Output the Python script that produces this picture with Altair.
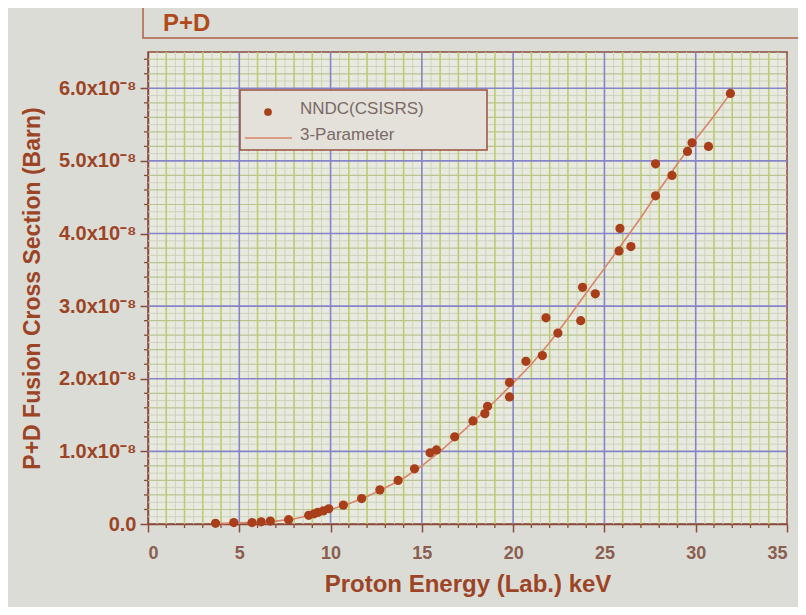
import altair as alt
import pandas as pd
import numpy as np

# ---- data (cross section in units of 1e-8 barn) ----
energy = [3.7, 4.7, 5.7, 6.2, 6.7, 7.7, 8.8, 9.1, 9.3, 9.6, 9.9, 10.7, 11.7, 12.7,
          13.7, 14.6, 15.45, 15.8, 16.8, 17.8, 18.45, 18.6, 19.8, 19.8, 20.7, 21.6,
          21.8, 22.45, 23.7, 23.8, 24.5, 25.8, 25.85, 26.45, 27.8, 27.8, 28.7, 29.55,
          29.8, 30.7, 31.9]
sigma = [0.01, 0.02, 0.02, 0.03, 0.04, 0.06, 0.12, 0.14, 0.16, 0.18, 0.21, 0.26, 0.35, 0.47,
         0.60, 0.76, 0.98, 1.02, 1.20, 1.42, 1.52, 1.62, 1.75, 1.95, 2.24, 2.32,
         2.84, 2.63, 2.80, 3.26, 3.17, 3.76, 4.07, 3.82, 4.52, 4.96, 4.80, 5.13,
         5.25, 5.20, 5.93]

fit_energy = [3.7, 5, 6, 7, 8, 9, 10, 11, 12, 13, 14, 15, 16, 17, 18, 19, 20, 21, 22,
              23, 24, 25, 26, 27, 28, 29, 30, 31, 31.9]
fit_sigma = [0.005, 0.015, 0.025, 0.04, 0.07, 0.13, 0.2, 0.28, 0.38, 0.5, 0.63, 0.8, 1.0,
             1.22, 1.45, 1.69, 1.94, 2.2, 2.5, 2.83, 3.18, 3.52, 3.87, 4.22, 4.6, 4.96,
             5.3, 5.62, 5.93]

x_ticks = [0, 5, 10, 15, 20, 25, 30, 35]
y_ticks = [0, 1, 2, 3, 4, 5, 6]
x_domain = [0, 35]
y_domain = [0, 6.5]

# grid positions
x_half = [v for v in np.arange(0.5, 35, 1.0)]
x_one = [v for v in np.arange(1, 35, 1.0) if v % 5 != 0]
x_major = [5, 10, 15, 20, 25, 30]
y_tenth = [round(v, 2) for v in np.arange(0.1, 6.5, 0.2)]
y_fifth = [round(v, 2) for v in np.arange(0.2, 6.5, 0.2) if abs(v - round(v)) > 1e-6]
y_major = [1, 2, 3, 4, 5, 6]
x_minor_ticks = [v for v in range(1, 35) if v % 5 != 0]
y_minor_ticks = [round(v, 2) for v in np.arange(0.2, 6.5, 0.2) if abs(v - round(v)) > 1e-6]

W, H = 639, 472
FONT = "Liberation Sans"
BROWN = "#9c4526"
BG = "#dcdcd6"

xscale = alt.Scale(domain=x_domain, nice=False, zero=False)
yscale = alt.Scale(domain=y_domain, nice=False, zero=False)

xaxis = alt.Axis(values=x_ticks, title="Proton Energy (Lab.) keV", grid=False,
                 labelFont=FONT, labelFontSize=18, labelFontWeight="bold", labelColor="#8a5e50",
                 labelPadding=12, tickSize=8, tickColor="#8b4a3a", tickWidth=1.5,
                 domainColor="#8b4a3a", domainWidth=1.5,
                 titleFont=FONT, titleFontSize=24, titleFontWeight="bold", titleColor=BROWN,
                 titlePadding=10, format="d")
yaxis = alt.Axis(values=y_ticks, title="P+D Fusion Cross Section (Barn)", grid=False,
                 labelExpr="datum.value == 0 ? '0.0' : format(datum.value, '.1f') + 'x10⁻⁸'",
                 labelFont=FONT, labelFontSize=20, labelFontWeight="bold", labelColor=BROWN,
                 labelPadding=4, tickSize=8, tickColor="#8b4a3a", tickWidth=1.5,
                 domainColor="#8b4a3a", domainWidth=1.5,
                 titleFont=FONT, titleFontSize=23, titleFontWeight="bold", titleColor=BROWN,
                 titlePadding=14)


def X(f):
    return alt.X(f, type="quantitative", scale=xscale, axis=xaxis)


def Y(f):
    return alt.Y(f, type="quantitative", scale=yscale, axis=yaxis)


def vrules(vals, color, width):
    return alt.Chart(pd.DataFrame({"v": vals})).mark_rule(color=color, strokeWidth=width).encode(x=X("v"))


def hrules(vals, color, width):
    return alt.Chart(pd.DataFrame({"v": vals})).mark_rule(color=color, strokeWidth=width).encode(y=Y("v"))


one = pd.DataFrame({"a": [0]})

grid = [
    vrules(x_half, "#cfd3bd", 1),
    hrules(y_tenth, "#cdd2bd", 1),
    hrules(y_fifth, "#b9c490", 1.2),
    vrules(x_one, "#bccb72", 1.6),
    vrules(x_major, "#8584c6", 1.6),
    hrules(y_major, "#8584c6", 1.6),
]

minor_x = alt.Chart(pd.DataFrame({"v": x_minor_ticks})).mark_rule(color="#8b4a3a", strokeWidth=1.3).encode(
    x=X("v"), y=alt.value(H), y2=alt.value(H + 4))
minor_y = alt.Chart(pd.DataFrame({"v": y_minor_ticks})).mark_rule(color="#8b4a3a", strokeWidth=1.3).encode(
    y=Y("v"), x=alt.value(-4), x2=alt.value(0))

fit = alt.Chart(pd.DataFrame({"e": fit_energy, "s": fit_sigma})).mark_line(
    color="#d9856a", strokeWidth=1.6).encode(x=X("e"), y=Y("s"))

pts = alt.Chart(pd.DataFrame({"e": energy, "s": sigma})).mark_circle(
    color="#a83e1a", size=85, opacity=1).encode(x=X("e"), y=Y("s"))

# legend box
leg_box = alt.Chart(one).mark_rect(fill="#e3e1da", stroke="#9a5040", strokeWidth=1.5).encode(
    x=alt.value(92), x2=alt.value(339), y=alt.value(38), y2=alt.value(98))
leg_dot = alt.Chart(one).mark_circle(color="#a83e1a", size=60, opacity=1).encode(
    x=alt.value(120), y=alt.value(60))
leg_line = alt.Chart(one).mark_rule(color="#d9856a", strokeWidth=1.6).encode(
    x=alt.value(97), x2=alt.value(144), y=alt.value(86))
leg_t1 = alt.Chart(one).mark_text(align="left", baseline="middle", font=FONT, fontSize=17,
                                   color="#7a6a66").encode(x=alt.value(152), y=alt.value(57),
                                                           text=alt.value("NNDC(CSISRS)"))
leg_t2 = alt.Chart(one).mark_text(align="left", baseline="middle", font=FONT, fontSize=17,
                                   color="#7a6a66").encode(x=alt.value(152), y=alt.value(83),
                                                           text=alt.value("3-Parameter"))

# slide title box (partially visible)
title_box = alt.Chart(one).mark_rect(fill=BG, stroke="#b0604a", strokeWidth=1.5).encode(
    x=alt.value(-5), x2=alt.value(700), y=alt.value(-80), y2=alt.value(-14))
title_txt = alt.Chart(one).mark_text(align="left", baseline="middle", font=FONT, fontSize=24,
                                     fontWeight="bold", color="#b04a1c").encode(
    x=alt.value(15), y=alt.value(-28), text=alt.value("P+D"))

chart = alt.layer(
    title_box, title_txt,
    *grid, minor_x, minor_y, fit, pts,
    leg_box, leg_dot, leg_line, leg_t1, leg_t2,
).properties(
    width=W, height=H,
    autosize=alt.AutoSizeParams(type="none"),
    padding={"left": 140, "top": 44, "right": 11, "bottom": 83},
    background=BG,
).configure_view(
    stroke="#8b4a3a", strokeWidth=1.5, fill="#e8eadf"
)

chart.save("out.html", embed_options={"renderer": "svg", "actions": False})
